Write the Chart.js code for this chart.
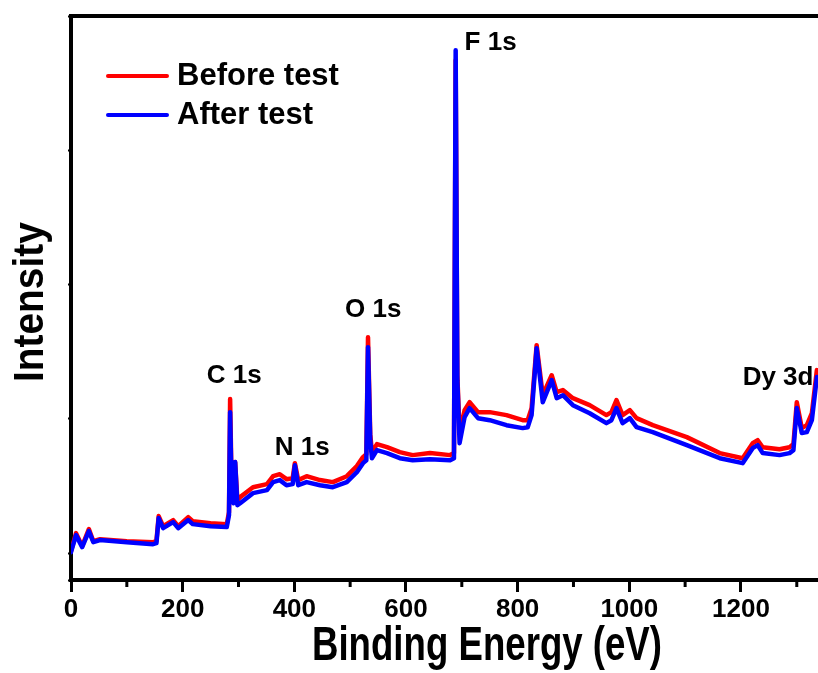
<!DOCTYPE html>
<html>
<head>
<meta charset="utf-8">
<script src="https://cdn.jsdelivr.net/npm/chart.js@4.4.1/dist/chart.umd.min.js"></script>
<style>
  html, body { margin: 0; padding: 0; background: #fff; }
  #wrap { width: 818px; height: 673px; }
</style>
</head>
<body>
<div id="wrap"><canvas id="xps"></canvas></div>
<script>
// binding energy (eV)
const energy = [0, 9, 20, 32, 40, 52, 100, 147, 153, 157, 165, 183, 192, 210, 218, 250, 279, 283, 285, 288,
  291, 294, 298, 303, 326, 351, 362, 374, 386, 397, 401, 407, 422, 446, 469, 494, 512, 523, 529, 532,
  536, 539, 548, 566, 589, 612, 643, 679, 686, 689, 692, 696, 705, 714, 729, 750, 780, 809, 818, 825,
  834, 845, 861, 870, 881, 899, 929, 959, 968, 977, 988, 1001, 1013, 1042, 1103, 1162, 1203, 1221, 1230, 1239,
  1269, 1287, 1294, 1300, 1309, 1318, 1327, 1336];

// intensity (a.u.)
const beforeTest = [0.015, 0.149, 0.052, 0.179, 0.089, 0.104, 0.089, 0.082, 0.089, 0.276, 0.201, 0.246, 0.201, 0.268, 0.238, 0.223, 0.216, 0.305, 1.147, 0.432,
  0.402, 0.678, 0.395, 0.417, 0.491, 0.514, 0.573, 0.588, 0.551, 0.558, 0.670, 0.544, 0.573, 0.544, 0.529, 0.573, 0.648, 0.715, 0.737, 1.608,
  0.886, 0.752, 0.812, 0.789, 0.752, 0.730, 0.745, 0.730, 0.745, 3.671, 1.325, 0.894, 1.065, 1.124, 1.050, 1.050, 1.028, 0.990, 0.990, 1.080,
  1.549, 1.176, 1.325, 1.199, 1.214, 1.154, 1.102, 1.028, 1.050, 1.139, 1.028, 1.065, 1.005, 0.953, 0.864, 0.745, 0.707, 0.819, 0.841, 0.789,
  0.774, 0.789, 0.812, 1.124, 0.931, 0.953, 1.042, 1.363];

const afterTest = [0.007, 0.134, 0.045, 0.164, 0.082, 0.097, 0.082, 0.067, 0.074, 0.261, 0.186, 0.231, 0.186, 0.246, 0.216, 0.201, 0.194, 0.283, 1.050, 0.395,
  0.372, 0.678, 0.357, 0.372, 0.447, 0.469, 0.529, 0.544, 0.506, 0.514, 0.655, 0.506, 0.529, 0.506, 0.491, 0.529, 0.603, 0.670, 0.692, 1.534,
  0.841, 0.707, 0.767, 0.745, 0.707, 0.692, 0.700, 0.692, 0.707, 3.745, 1.288, 0.819, 1.013, 1.080, 1.005, 0.990, 0.953, 0.931, 0.938, 1.028,
  1.526, 1.124, 1.288, 1.154, 1.176, 1.102, 1.042, 0.968, 0.990, 1.080, 0.968, 1.005, 0.938, 0.901, 0.804, 0.707, 0.670, 0.782, 0.804, 0.745,
  0.730, 0.745, 0.767, 1.080, 0.894, 0.901, 0.990, 1.311];

const xTicks = [0, 200, 400, 600, 800, 1000, 1200];
const xMinorTicks = [100, 300, 500, 700, 900, 1100, 1300];

const peakNames = ['C 1s', 'N 1s', 'O 1s', 'F 1s', 'Dy 3d'];
const peakLabelX = [243, 365, 491, 705, 1203];
const peakLabelY = [1.266, 0.730, 1.757, 3.745, 1.251];

const seriesNames = ['Before test', 'After test'];
const xTitle = 'Binding Energy (eV)';
const yTitle = 'Intensity';

const FONT = '"Liberation Sans", Arial, sans-serif';

function toPoints(ys) {
  return energy.map((e, i) => ({ x: e, y: ys[i] }));
}

const decor = {
  id: 'decor',
  afterDraw(chart) {
    const ctx = chart.ctx;
    const xs = chart.scales.x, ys = chart.scales.y;
    const area = chart.chartArea;
    ctx.save();
    ctx.fillStyle = '#000';
    ctx.strokeStyle = '#000';

    // minor ticks on the bottom axis
    ctx.lineWidth = 3;
    xMinorTicks.forEach(v => {
      const px = xs.getPixelForValue(v);
      ctx.beginPath();
      ctx.moveTo(px, area.bottom);
      ctx.lineTo(px, area.bottom + 7);
      ctx.stroke();
    });

    // peak labels
    ctx.font = 'bold 26px ' + FONT;
    ctx.textAlign = 'left';
    ctx.textBaseline = 'alphabetic';
    peakNames.forEach((t, i) => {
      ctx.fillText(t, xs.getPixelForValue(peakLabelX[i]), ys.getPixelForValue(peakLabelY[i]));
    });

    // legend
    ctx.font = 'bold 31px ' + FONT;
    chart.data.datasets.forEach((ds, i) => {
      const ly = 76 + i * 39;
      ctx.strokeStyle = ds.borderColor;
      ctx.lineWidth = 4;
      ctx.lineCap = 'round';
      ctx.beginPath();
      ctx.moveTo(108, ly);
      ctx.lineTo(167, ly);
      ctx.stroke();
      ctx.fillText(ds.label, 177, ly + 9);
    });

    // axis titles (condensed bold)
    ctx.save();
    ctx.font = 'bold 48px ' + FONT;
    ctx.translate(312, 660);
    ctx.scale(0.763, 1);
    ctx.fillText(xTitle, 0, 0);
    ctx.restore();

    ctx.save();
    ctx.font = 'bold 42px ' + FONT;
    ctx.translate(43, 382);
    ctx.rotate(-Math.PI / 2);
    ctx.scale(0.925, 1);
    ctx.fillText(yTitle, 0, 0);
    ctx.restore();

    ctx.restore();
  }
};

new Chart(document.getElementById('xps'), {
  type: 'line',
  data: {
    datasets: [{
      label: seriesNames[0],
      data: toPoints(beforeTest),
      borderColor: '#ff0000',
      borderWidth: 4.5,
      borderJoinStyle: 'round',
      borderCapStyle: 'round',
      pointRadius: 0,
      tension: 0,
      order: 2
    }, {
      label: seriesNames[1],
      data: toPoints(afterTest),
      borderColor: '#0000ff',
      borderWidth: 4.5,
      borderJoinStyle: 'round',
      borderCapStyle: 'round',
      pointRadius: 0,
      tension: 0,
      order: 1
    }]
  },
  options: {
    responsive: true,
    maintainAspectRatio: false,
    animation: false,
    layout: { padding: { top: 16, right: 0, left: 0, bottom: 0 } },
    plugins: {
      legend: { display: false },
      tooltip: { enabled: false }
    },
    scales: {
      x: {
        type: 'linear',
        position: 'bottom',
        min: 0,
        max: 1338,
        afterFit: s => { s.height = 93; },
        afterBuildTicks: s => { s.ticks = xTicks.map(v => ({ value: v })); },
        ticks: {
          color: '#000',
          font: { family: FONT, size: 26, weight: 'bold' },
          maxRotation: 0,
          autoSkip: false,
          padding: 2,
          callback: v => String(v)
        },
        grid: { drawOnChartArea: false, drawTicks: true, tickLength: 12, tickWidth: 3, tickColor: '#000' },
        border: { color: '#000', width: 4 }
      },
      x2: {
        type: 'linear',
        position: 'top',
        min: 0,
        max: 1338,
        afterFit: s => { s.height = 0; },
        ticks: { display: false },
        grid: { display: false },
        border: { display: true, color: '#000', width: 4 }
      },
      y: {
        min: -0.2,
        max: 4,
        afterFit: s => { s.width = 71; },
        ticks: { display: false, stepSize: 1 },
        grid: { drawOnChartArea: false, drawTicks: true, tickLength: 3, tickWidth: 2, tickColor: '#000' },
        border: { color: '#000', width: 4 }
      }
    }
  },
  plugins: [decor]
});
</script>
</body>
</html>
